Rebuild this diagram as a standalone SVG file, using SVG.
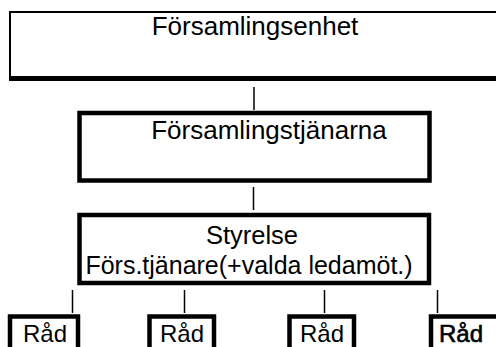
<svg xmlns="http://www.w3.org/2000/svg" width="496" height="347" viewBox="0 0 496 347">
<style>
.box{fill:#fff;stroke:#000;stroke-width:4.5}
.t{font-family:"Liberation Sans",Arial,sans-serif;fill:#000;text-anchor:middle}
.c{stroke:#000;stroke-width:1.5;fill:none}
</style>
<rect width="496" height="347" fill="#fff"/>
<g id="n-forsamlingsenhet">
<rect x="10" y="12" width="500" height="66" fill="#fff" stroke="#000" stroke-width="2"/>
<line x1="9" y1="78.5" x2="496" y2="78.5" stroke="#000" stroke-width="5"/>
<text class="t" x="255" y="35" font-size="26">Församlingsenhet</text>
</g>
<g id="n-forsamlingstjanarna">
<rect class="box" x="79.5" y="113" width="350" height="67.5"/>
<text class="t" x="269" y="139" font-size="26">Församlingstjänarna</text>
</g>
<g id="n-styrelse">
<rect class="box" x="79.5" y="215" width="349.5" height="68"/>
<text class="t" x="252" y="244" font-size="25.5">Styrelse</text>
<text class="t" x="249" y="274" font-size="25">Förs.tjänare(+valda ledamöt.)</text>
</g>
<g id="n-rad1">
<path class="box" d="M10,352 V316.5 H78 V352"/>
<text class="t" x="45" y="342" font-size="24">Råd</text>
</g>
<g id="n-rad2">
<path class="box" d="M149.5,352 V316.5 H214 V352"/>
<text class="t" x="182" y="342" font-size="24">Råd</text>
</g>
<g id="n-rad3">
<path class="box" d="M289.5,352 V316.5 H354 V352"/>
<text class="t" x="322" y="342" font-size="24">Råd</text>
</g>
<g id="n-rad4">
<path class="box" d="M431,352 V316.5 H500"/>
<text class="t" x="461" y="342" font-size="24" stroke="#000" stroke-width="0.6">Råd</text>
</g>
<g id="connectors">
<line class="c" x1="254" y1="87" x2="254" y2="110"/>
<line class="c" x1="253.5" y1="187" x2="253.5" y2="210"/>
<line class="c" x1="72.5" y1="290" x2="72.5" y2="313"/>
<line class="c" x1="184.5" y1="290" x2="184.5" y2="313"/>
<line class="c" x1="324.5" y1="290" x2="324.5" y2="313"/>
<line class="c" x1="437.5" y1="290" x2="437.5" y2="313"/>
</g>
</svg>
